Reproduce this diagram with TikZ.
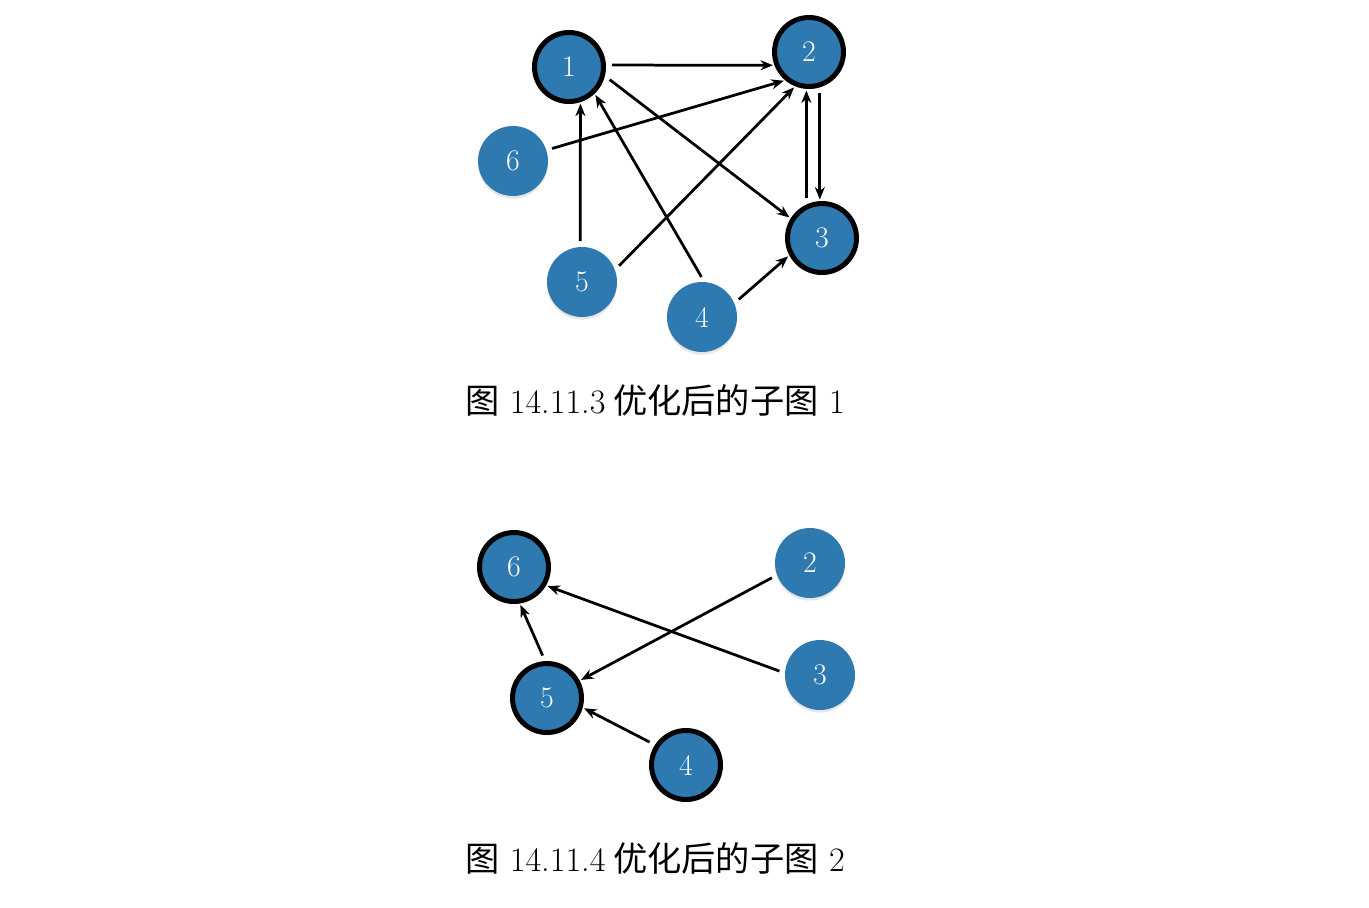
\documentclass[tikz,border=0pt]{standalone}
\usepackage{fontspec}
\newfontfamily\cjk{Noto Sans CJK SC}
\usetikzlibrary{arrows.meta}
\usetikzlibrary{shadows}

\definecolor{nodeblue}{RGB}{46,121,176}
\newcommand{\wide}{\addfontfeature{LetterSpace=22}}

\begin{document}
\begin{tikzpicture}[x=0.02cm, y=-0.02cm,
    vert/.style={circle, fill=nodeblue, minimum size=1.4cm, inner sep=0pt, outer sep=0pt,
        text=white, font=\fontsize{17}{20}\selectfont,
        drop shadow={opacity=0.2, shadow xshift=0pt, shadow yshift=-1.5pt}},
    picked/.style={vert, draw=black, line width=0.1cm, minimum size=1.38cm, outer sep=0.05cm},
    edge/.style={-{Stealth[length=0.25cm, width=0.2cm]}, line width=0.055cm,
        shorten <=0.12cm, shorten >=0.03cm},
    caption/.style={font=\fontsize{19.5}{23}\selectfont}]

                \useasboundingbox (0,0) rectangle (1369,907);

                % sub-graph 1
                \node[picked] (a1) at (569,67) {1};
                \node[picked] (a2) at (809,52) {2};
                \node[picked] (a3) at (822,238) {3};
                \node[vert] (a4) at (702,317) {4};
                \node[vert] (a5) at (582,282) {5};
                \node[vert] (a6) at (513,161) {6};

                \draw[edge] (a1.3) -- (a2.201);
                \draw[edge] (a6.18) -- (a2.230);
                \draw[edge] (a1.-14) -- (a3.148);
                \draw[edge] (a5.93) -- (a1.-72);
                \draw[edge] (a4.86) -- (a1.-46);
                \draw[edge] (a5.20) -- (a2.-112);
                \draw[edge] (a3.115) -- (a3.115 |- a2.south);
                \draw[edge] (a2.-73) -- (a2.-73 |- a3.north);
                \draw[edge] (a4.23) -- (a3.208);

                \node[caption] (cap1) at (655,400) {{\cjk 图} {\wide 14.11.3}{\cjk\ 优化后的子图} 1};

                % sub-graph 2
                \node[vert] (b2) at (810,563) {2};
                \node[vert] (b3) at (820,675) {3};
                \node[picked] (b4) at (686,765) {4};
                \node[picked] (b5) at (547,698) {5};
                \node[picked] (b6) at (514,567) {6};

                \draw[edge] (b3.177) -- (b6.-30);
                \draw[edge] (b2.200) -- (b5.28);
                \draw[edge] (b5.93) -- (b6.-81);
                \draw[edge] (b4.147) -- (b5.-15);

                \node[caption] (cap2) at (655,858) {{\cjk 图} {\wide 14.11.4}{\cjk\ 优化后的子图} 2};
            \end{tikzpicture}
\end{document}
